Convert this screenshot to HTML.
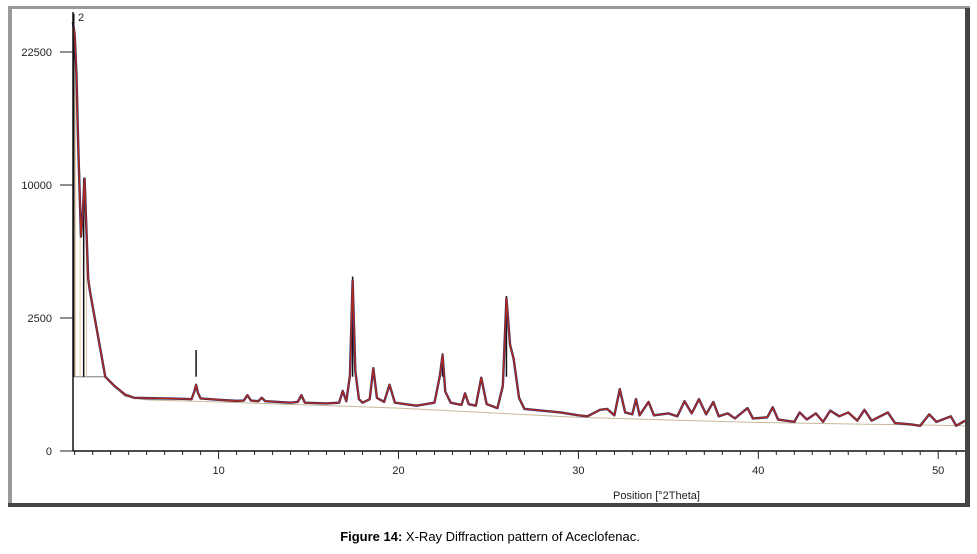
<!DOCTYPE html>
<html><head><meta charset="utf-8"><style>
body{margin:0;background:#fff;width:977px;height:549px;overflow:hidden;font-family:"Liberation Sans",sans-serif}
</style></head><body>
<svg id="chart" width="977" height="549" viewBox="0 0 977 549" xmlns="http://www.w3.org/2000/svg" font-family="Liberation Sans, sans-serif">
<rect x="8" y="6" width="962" height="3" fill="#999"/>
<rect x="8" y="6" width="4" height="500" fill="#999"/>
<rect x="965" y="8" width="5" height="498" fill="#444"/>
<rect x="8" y="503" width="962" height="4" fill="#444"/>
<g id="plot"></g>
<text x="78" y="21" font-size="11" fill="#222">2</text>
<text x="613" y="499" font-size="11" fill="#222">Position [°2Theta]</text>
<text x="490" y="541" font-size="13" text-anchor="middle" fill="#000"><tspan font-weight="bold">Figure 14:</tspan> X-Ray Diffraction pattern of Aceclofenac.</text>
</svg>
<script>
const obsX=[1.9,2.0,2.1,2.2,2.35,2.45,2.55,2.65,2.75,2.85,3.7,4.2,4.8,5.3,6,7,8,8.5,8.65,8.75,8.85,9.0,10,11,11.4,11.6,11.8,12.2,12.4,12.6,14,14.4,14.6,14.8,16,16.7,16.9,17.1,17.3,17.45,17.6,17.8,18.0,18.4,18.6,18.8,19.2,19.5,19.8,21,22.0,22.3,22.45,22.6,22.9,23.5,23.7,23.9,24.3,24.6,24.9,25.5,25.8,26.0,26.2,26.4,26.7,27.0,28,29,30,30.5,31.2,31.6,32.0,32.3,32.6,33.0,33.2,33.4,33.9,34.2,35,35.5,35.9,36.3,36.7,37.1,37.5,37.8,38.3,38.7,39.4,39.7,40.5,40.8,41.1,42.0,42.3,42.7,43.2,43.6,44.0,44.5,45.0,45.5,45.9,46.3,47.2,47.6,48.5,49.0,49.5,49.9,50.7,51.0,51.5];
const obsY=[26000,24500,20000,13000,6500,8000,10500,7000,4200,3600,780,600,450,400,395,390,385,380,500,620,480,390,370,355,360,440,360,350,400,350,330,340,440,330,320,330,510,350,800,4100,900,380,330,380,970,400,340,620,330,290,330,800,1300,500,330,300,470,310,290,760,310,260,600,3300,1600,1200,400,250,230,210,180,170,240,250,180,540,210,190,380,180,340,180,200,170,350,200,380,190,340,170,200,150,260,150,160,270,140,120,210,140,200,120,230,170,210,130,240,130,210,110,100,90,190,120,170,90,130];
const stickX=[1.95,2.5,8.75,17.45,22.45,26.0];
const stickY=[27000,10500,1440,4300,1350,3400];
const beigeX=[2.05,2.3,2.65];
const beigeY=[24000,11000,6000];
const bgX=[1.9,3.7,4.8,6,10,20,30,40,51.5];
const bgY=[780,780,420,370,340,260,160,115,90];
const xTickLabels=[10,20,30,40,50];
const yTickLabels=[0,2500,10000,22500];

const X=v=>38.7+17.99*v;
const Y=c=>451-2.66*Math.sqrt(c);
const NS='http://www.w3.org/2000/svg';
const g=document.getElementById('plot');
function mk(t,a){const e=document.createElementNS(NS,t);for(const k in a)e.setAttribute(k,a[k]);g.appendChild(e);return e;}

let bl=mk('polyline',{points:bgX.map((x,i)=>X(x)+','+Y(bgY[i])).join(' '),fill:'none',stroke:'#c8b89a','stroke-width':1});


let hl=mk('line',{x1:X(bgX[0]),x2:X(bgX[1]),y1:Y(bgY[0]),y2:Y(bgY[1]),stroke:'#888','stroke-width':1});


beigeX.forEach((x,i)=>{
 const s=mk('line',{x1:X(x),x2:X(x),y1:Y(780),y2:Y(beigeY[i]),stroke:'#e8c9a0','stroke-width':1});
 
 
});
stickX.forEach((x,i)=>{
 const s=mk('line',{x1:X(x),x2:X(x),y1:Y(780),y2:Y(stickY[i]),stroke:'#111','stroke-width':1.5});
 
 
});
let cl=mk('polyline',{points:obsX.map((x,i)=>X(x)+','+Y(obsY[i])).join(' '),fill:'none',stroke:'#2a2a70','stroke-width':2.4,'stroke-linejoin':'round'});


let ol=mk('polyline',{points:obsX.map((x,i)=>X(x)+','+Y(obsY[i])).join(' '),fill:'none',stroke:'#b02a1a','stroke-width':1.4,'stroke-linejoin':'round'});



let ya=mk('line',{x1:73,x2:73,y1:12,y2:451,stroke:'#111','stroke-width':1.5});


let xa=mk('line',{x1:73,x2:965,y1:451,y2:451,stroke:'#111','stroke-width':1.5});


for(let v=2;v<=51;v++){
 const major=v%10===0;
 const t=mk('line',{x1:X(v),x2:X(v),y1:451,y2:major?459:455,stroke:'#222','stroke-width':1});
 
 
}
xTickLabels.forEach(v=>{
 const t=mk('text',{x:X(v),y:474,'font-size':11,'text-anchor':'middle',fill:'#222'});
 t.textContent=v;
 
 
});
yTickLabels.forEach(v=>{
 const tk=mk('line',{x1:60,x2:73,y1:Y(v),y2:Y(v),stroke:'#222','stroke-width':1});
 
 
 const t=mk('text',{x:52,y:Y(v)+4,'font-size':11,'text-anchor':'end',fill:'#222'});
 t.textContent=v;
 
 
});
</script>
</body></html>
